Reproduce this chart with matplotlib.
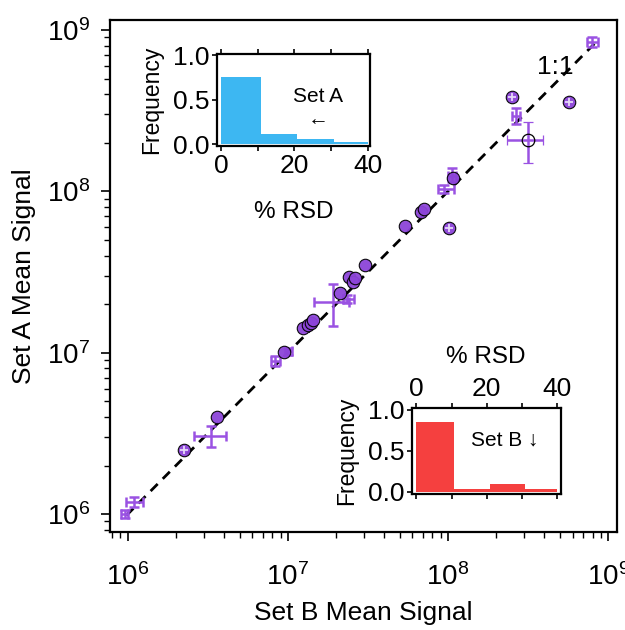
import matplotlib
matplotlib.use('Agg')
import matplotlib.pyplot as plt
import numpy as np
from matplotlib.ticker import LogLocator, NullFormatter, FixedLocator

plt.rcParams['font.family'] = ['Liberation Sans', 'DejaVu Sans']
plt.rcParams['mathtext.fontset'] = 'custom'
plt.rcParams['mathtext.rm'] = 'Liberation Sans'

# circles: Set B mean (x), Set A mean (y)
circ_b = [2.25e6, 3.63e6, 9.4e6, 1.25e7, 1.33e7, 1.39e7, 1.44e7, 2.11e7, 2.40e7,
          2.56e7, 2.64e7, 3.05e7, 5.36e7, 6.8e7, 7.1e7, 1.02e8, 1.07e8, 2.5e8, 5.71e8]
circ_a = [2.5e6, 3.99e6, 1.01e7, 1.43e7, 1.48e7, 1.52e7, 1.60e7, 2.35e7, 2.95e7,
          2.76e7, 2.90e7, 3.51e7, 6.07e7, 7.48e7, 7.76e7, 5.89e7, 1.21e8, 3.85e8, 3.6e8]
# circles that show a small light cross inside
inner_b = [2.25e6, 1.02e8, 2.5e8, 5.71e8]
inner_a = [2.5e6, 5.89e7, 3.85e8, 3.6e8]

# points drawn only as error bar crosses
cross_b = [9.6e5, 1.1e6, 3.3e6, 8.3e6, 1.0e7, 1.92e7, 2.35e7, 9.4e7, 1.06e8, 2.66e8, 7.98e8]
cross_b_lo = [9.1e5, 9.8e5, 2.58e6, 7.8e6, 9.6e6, 1.46e7, 2.2e7, 8.7e7, 1.0e8, 2.5e8, 7.4e8]
cross_b_hi = [1.01e6, 1.24e6, 4.09e6, 8.9e6, 1.06e7, 2.40e7, 2.6e7, 1.09e8, 1.12e8, 2.8e8, 8.6e8]
cross_a = [1.0e6, 1.18e6, 3.06e6, 8.9e6, 1.02e7, 2.07e7, 2.14e7, 1.04e8, 1.25e8, 2.94e8, 8.47e8]
cross_a_lo = [9.45e5, 1.1e6, 2.59e6, 8.3e6, 9.7e6, 1.46e7, 2.02e7, 9.8e7, 1.15e8, 2.63e8, 7.9e8]
cross_a_hi = [1.06e6, 1.27e6, 3.52e6, 9.5e6, 1.07e7, 2.66e7, 2.27e7, 1.10e8, 1.40e8, 3.3e8, 9.1e8]

# open circle with large error bars
open_b, open_b_lo, open_b_hi = [3.18e8], [2.35e8], [3.94e8]
open_a, open_a_lo, open_a_hi = [2.09e8], [1.50e8], [2.70e8]

line_1to1 = [9.8e5, 8.3e8]

# inset histograms (% RSD)
rsd_edges = [0, 10.8, 20.8, 30.8, 40]
freq_a = [0.75, 0.11, 0.055, 0.022]
freq_b = [0.85, 0.035, 0.09, 0.035]

purple = '#8C44D8'
cross_col = '#9A52E2'

fig = plt.figure(figsize=(6.25, 6.3), dpi=100)
ax = fig.add_axes([110 / 625, 1 - 532 / 630, 507 / 625, 512 / 630])
ax.set_xscale('log')
ax.set_yscale('log')

ax.plot(line_1to1, line_1to1, color='black', lw=2.0, dashes=(3.6, 2.6), zorder=1)

ax.errorbar(cross_b, cross_a,
            xerr=[np.subtract(cross_b, cross_b_lo), np.subtract(cross_b_hi, cross_b)],
            yerr=[np.subtract(cross_a, cross_a_lo), np.subtract(cross_a_hi, cross_a)],
            fmt='none', ecolor=cross_col, elinewidth=1.8, capsize=3.5, capthick=1.8, zorder=2)

ax.plot(circ_b, circ_a, 'o', ms=9, mfc=purple, mec='black', mew=0.8, alpha=0.95, zorder=3)
ax.plot(inner_b, inner_a, '+', ms=5.5, color='#E6D8F8', mew=1.3, zorder=4)

ax.errorbar(open_b, open_a,
            xerr=[np.subtract(open_b, open_b_lo), np.subtract(open_b_hi, open_b)],
            yerr=[np.subtract(open_a, open_a_lo), np.subtract(open_a_hi, open_a)],
            fmt='o', ms=9, mfc='none', mec='black', mew=0.9,
            ecolor=cross_col, elinewidth=1.8, capsize=3.5, capthick=1.8, zorder=4)

ax.text(4.7e8, 5.9e8, '1:1', fontsize=19, ha='center', va='center')

ax.set_xlim(10 ** 5.889, 10 ** 9.056)
ax.set_ylim(10 ** 5.889, 10 ** 9.062)
for axis in (ax.xaxis, ax.yaxis):
    axis.set_major_locator(LogLocator(base=10, numticks=10))
    axis.set_minor_locator(LogLocator(base=10, subs=np.arange(2, 10), numticks=20))
    axis.set_minor_formatter(NullFormatter())
ax.tick_params(which='major', direction='out', length=6.5, width=1.2, labelsize=20)
ax.tick_params(which='minor', direction='out', length=4.3, width=1.0)
ax.tick_params(axis='x', which='major', pad=16)
ax.tick_params(axis='y', which='major', pad=8)
for s in ax.spines.values():
    s.set_linewidth(1.6)
ax.set_xlabel('Set B Mean Signal', fontsize=19, labelpad=7)
ax.set_ylabel('Set A Mean Signal', fontsize=19, labelpad=8)


def style_inset(a, top_labels):
    a.set_xlim(-1.0, 40.6)
    a.xaxis.set_major_locator(FixedLocator([0, 10, 20, 30, 40]))
    a.set_xticklabels(['0', '', '20', '', '40'])
    a.set_yticks([0.0, 0.5, 1.0])
    a.set_yticklabels(['0.0', '0.5', '1.0'])
    a.tick_params(direction='out', length=3.5, width=1.2, labelsize=19, pad=2,
                  top=True, bottom=True, labeltop=top_labels, labelbottom=not top_labels)
    for s in a.spines.values():
        s.set_linewidth(1.6)
    a.set_ylabel('Frequency', fontsize=16.5, labelpad=7)
    if top_labels:
        a.xaxis.set_label_position('top')
        a.set_xlabel('% RSD', fontsize=17.5, labelpad=10)
    else:
        a.set_xlabel('% RSD', fontsize=17.5, labelpad=17)


axA = fig.add_axes([217.3 / 625, 1 - 146 / 630, 152.7 / 625, 91.7 / 630])
axA.stairs(freq_a, rsd_edges, fill=True, color='#3DB7F2')
style_inset(axA, False)
axA.set_ylim(-0.022, 1.008)
axA.text(26.4, 0.53, 'Set A', fontsize=15, ha='center', va='center')
axA.text(26.4, 0.27, '\u2190', fontsize=15, ha='center', va='center')

axB = fig.add_axes([411.7 / 625, 1 - 494 / 630, 149 / 625, 85.7 / 630])
axB.stairs(freq_b, rsd_edges, fill=True, color='#F5403F')
style_inset(axB, True)
axB.set_xlim(-1.3, 41.0)
axB.set_ylim(-0.028, 1.02)
axB.text(25.1, 0.63, 'Set B \u2193', fontsize=15, ha='center', va='center')

fig.savefig('out.png', dpi=100)
